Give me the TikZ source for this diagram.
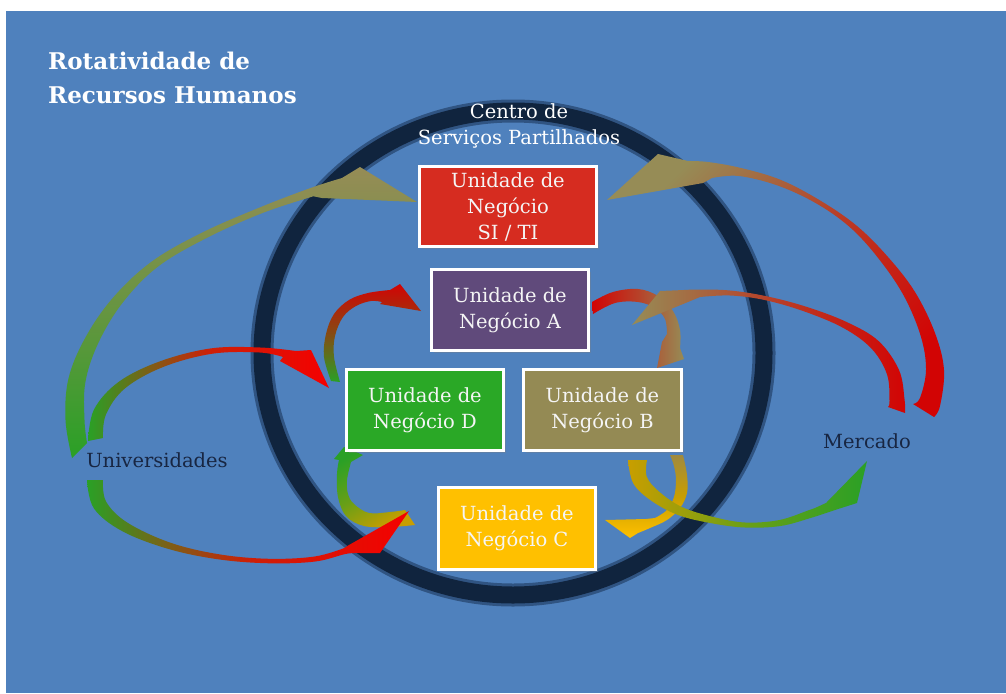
\documentclass[tikz,border=0pt]{standalone}
\usepackage{fontspec}
\setmainfont{DejaVu Serif}
\usetikzlibrary{shadows}

\definecolor{panel}{RGB}{79,129,189}
\definecolor{ringnavy}{RGB}{16,36,62}
\definecolor{ringhalo}{RGB}{48,84,130}
\definecolor{boxred}{RGB}{214,44,32}
\definecolor{boxpurple}{RGB}{96,74,123}
\definecolor{boxgreen}{RGB}{42,168,38}
\definecolor{boxolive}{RGB}{148,138,84}
\definecolor{boxgold}{RGB}{255,192,0}
\definecolor{navytext}{RGB}{24,38,66}
\definecolor{agreen}{RGB}{42,160,38}
\definecolor{ared}{RGB}{245,0,0}
\definecolor{adred}{RGB}{210,4,4}
\definecolor{akhaki}{RGB}{150,140,86}
\definecolor{agold}{RGB}{200,158,0}
\definecolor{aolive}{RGB}{160,138,62}
\definecolor{ayellow}{RGB}{255,192,0}

\begin{document}
\begin{tikzpicture}[x=1pt, y=-1pt,
  unitbox/.style={draw=white, line width=3pt, inner sep=0pt, text=white!96!black,
    align=center, font=\fontsize{19.5}{26}\selectfont,
    drop shadow={opacity=0.35, shadow xshift=2.5pt, shadow yshift=-2.5pt}},
  place/.style={text=navytext, inner sep=0pt, font=\fontsize{19.5}{24}\selectfont},
  heading/.style={text=white, inner sep=0pt, anchor=base west,
    font=\fontsize{23}{30}\selectfont\bfseries},
  ringline/.style={draw=ringnavy, line width=17pt},
  ringglow/.style={draw=ringhalo, line width=23pt},
  smoothedge/.style={smooth, tension=0.6}
]
\useasboundingbox (0,0) rectangle (1006,693);
\fill[white] (0,0) rectangle (1006,693);
\fill[panel] (6,11) rectangle (1006,693);

% title
\node[heading] (title1) at (48,70) {Rotatividade de};
\node[heading] (title2) at (48,103) {Recursos Humanos};

% shared services ring
\draw[ringglow] (513,353) ellipse [x radius=251pt, y radius=242pt];
\draw[ringline] (513,353) ellipse [x radius=251pt, y radius=242pt];
\node[text=white, inner sep=0pt, align=center, font=\fontsize{19.5}{26}\selectfont]
  (csp) at (519,126) {Centro de\\Serviços Partilhados};

% ---- flows ----
% C -> D (under the red head)
\shade[top color=agreen, bottom color=agold, middle color=agreen!60!agold, shading angle=30]
  plot[smoothedge] coordinates {(415,525) (390,527) (364,526) (346,516) (338,497) (337,474) (339,460)}
  -- (334,459) -- (344,447) -- (363,455)
  -- plot[smoothedge] coordinates {(351,462) (347,480) (348,494) (354,504) (369,513) (390,512) (405,510)}
  -- cycle;

% Universidades -> SI/TI
\shade[top color=akhaki, bottom color=agreen, middle color=akhaki!55!agreen]
  plot[smoothedge] coordinates {(72,458) (65.5,420) (68.6,378) (85.7,337) (113.6,297) (152.5,261) (203.4,232) (260.9,207) (310.6,188) (342,178)}
  -- (360,167) -- (417,202) -- (322,198)
  -- plot[smoothedge] coordinates {(313.4,196.3) (263.1,212.8) (206.6,238) (157.5,267) (122.4,303) (98.3,343) (85.4,382) (84.5,420) (87,443)}
  -- cycle;

% Universidades -> D
\shade[left color=agreen, right color=ared, middle color=ared!80!agreen]
  plot[smoothedge] coordinates {(88,441) (94.1,409.3) (119.2,381.5) (160.9,361) (211.6,348.3) (260.2,347.5) (296,351)}
  -- (311,350) -- (329,388) -- (280,361)
  -- plot[smoothedge] coordinates {(283,357) (259.8,352.5) (212.4,353.7) (163.1,367) (124.8,388.5) (105.9,414.7) (103,438)}
  -- cycle;

% Universidades -> C
\shade[left color=agreen, right color=ared, middle color=ared!80!agreen]
  plot[smoothedge] coordinates {(87,480) (93.9,508.4) (122.5,531.3) (169,549.1) (219.6,559.5) (270,563.3) (315.3,561.5) (345.9,553.9) (360,553)}
  -- (380,553) -- (409,511) -- (349,545)
  -- plot[smoothedge] coordinates {(344.1,548.1) (314.7,556.5) (270,558.8) (220.4,554.5) (171,542.9) (127.5,522.7) (106.1,501.6) (103,480)}
  -- cycle;

% D -> A
\shade[top color=adred, bottom color=agreen, middle color=adred!55!agreen]
  plot[smoothedge] coordinates {(331,381) (324,357) (326,334) (334,314) (349,300) (368,293) (390,290)}
  -- (400,284) -- (421,311) -- (380,304)
  -- plot[smoothedge] coordinates {(382,302) (371,301) (356,306) (343,317) (335,336) (334,357) (340,382)}
  -- cycle;

% A -> B
\shade[left color=adred, right color=akhaki, middle color=adred!55!akhaki]
  plot[smoothedge] coordinates {(592,302) (613,292) (638,289) (658,296) (673,311) (680,330) (680,348)}
  -- (684,359) -- (657,368) -- (662,342)
  -- plot[smoothedge] coordinates {(667,334) (665,319) (655,308) (638,302) (615,303) (593,314)}
  -- cycle;

% Mercado -> A
\shade[left color=akhaki, right color=adred, middle color=akhaki!45!adred]
  plot[smoothedge] coordinates {(905,413) (904.5,399) (899,370) (878.5,341) (846.6,322) (805.8,306.6) (765.4,296) (730,290.5) (700,289.5) (684,290)}
  -- (660,291) -- (632,325) -- (688,302)
  -- plot[smoothedge] coordinates {(700,297) (730,295.5) (764.6,300) (804.2,311.4) (843.4,328) (871.5,348.6) (887,374.4) (889.5,401) (888,407)}
  -- cycle;

% Mercado -> SI/TI
\shade[top color=akhaki, bottom color=adred, middle color=akhaki!40!adred, shading angle=45]
  plot[smoothedge] coordinates {(934,417) (940,406) (944,370) (935,333) (915,292) (888,257) (857,226) (821,201) (781,180) (741,168) (708,162) (688,161)}
  -- (658,154) -- (607,200) -- (703,183)
  -- plot[smoothedge] coordinates {(712,178) (739,176) (779,186) (819,205) (853,230) (882,263) (905,298) (921,337) (926,370) (920,398) (913,404)}
  -- cycle;

% B -> C
\shade[top color=aolive, bottom color=ayellow, middle color=agold]
  plot[smoothedge] coordinates {(683,455) (687,475) (687,493) (680,508) (667,520) (650,528) (638,533)}
  -- (630,538) -- (605,520) -- (646,519)
  -- plot[smoothedge] coordinates {(655,518) (667,510) (674,497) (676,480) (674,466) (670,455)}
  -- cycle;

% B -> Mercado
\shade[left color=agold, right color=agreen, middle color=agreen!60!agold]
  plot[smoothedge] coordinates {(628,460) (633.3,483.4) (651.3,500.7) (678.3,515.1) (711.3,523.2) (744.9,527.5) (780.5,526) (811.5,517.7) (835,510)}
  -- (857,503) -- (867,461) -- (826,503)
  -- plot[smoothedge] coordinates {(815,508) (808.5,510.3) (779.5,520) (745.1,522.5) (712.7,516.8) (681.7,506.9) (658.7,491.3) (646.7,476.6) (647,460)}
  -- cycle;

% business units
\node[unitbox, fill=boxred, minimum width=177pt, minimum height=80pt]
  (si) at (508,206.5) {Unidade de\\Negócio\\SI / TI};
\node[unitbox, fill=boxpurple, minimum width=157pt, minimum height=81pt]
  (ua) at (510,310) {Unidade de\\Negócio A};
\node[unitbox, fill=boxgreen, minimum width=157pt, minimum height=81pt]
  (ud) at (425,410) {Unidade de\\Negócio D};
\node[unitbox, fill=boxolive, minimum width=158pt, minimum height=81pt]
  (ub) at (602.5,410) {Unidade de\\Negócio B};
\node[unitbox, fill=boxgold, minimum width=157pt, minimum height=82pt]
  (uc) at (517,528.5) {Unidade de\\Negócio C};

% outside sources
\node[place] (univ) at (157,460) {Universidades};
\node[place] (merc) at (867,441) {Mercado};
\end{tikzpicture}
\end{document}
